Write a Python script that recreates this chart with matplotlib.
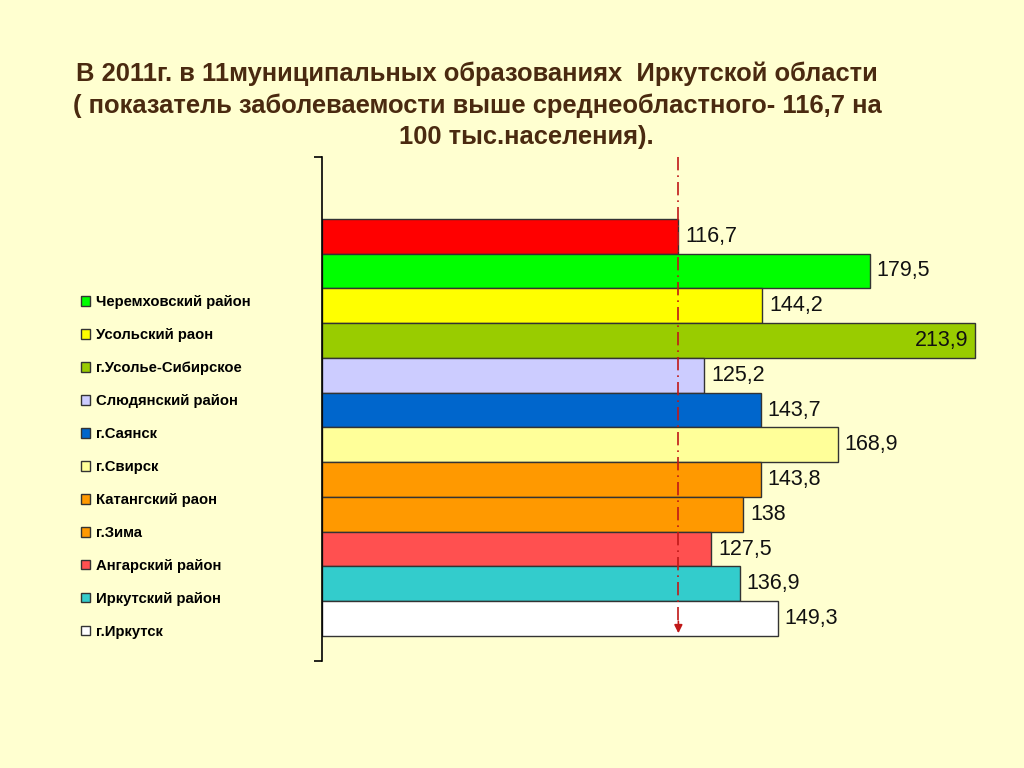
import matplotlib as mpl
import matplotlib.pyplot as plt
import numpy as np

mpl.rcParams['font.family'] = ['Liberation Sans', 'DejaVu Sans']

# data, top bar first (the first one is the oblast average)
names = ['Среднеобластной', 'Черемховский район', 'Усольский раон', 'г.Усолье-Сибирское',
         'Слюдянский район', 'г.Саянск', 'г.Свирск', 'Катангский раон', 'г.Зима',
         'Ангарский район', 'Иркутский район', 'г.Иркутск']
values = [116.7, 179.5, 144.2, 213.9, 125.2, 143.7, 168.9, 143.8, 138, 127.5, 136.9, 149.3]
colors = ['#ff0000', '#00ff00', '#ffff00', '#99cc00', '#ccccff', '#0066cc',
          '#ffff99', '#ff9900', '#ff9900', '#ff5050', '#33cccc', '#ffffff']
average = 116.7

title_lines = ['В 2011г. в 11муниципальных образованиях  Иркутской области',
               '( показатель заболеваемости выше среднеобластного- 116,7 на',
               '100 тыс.населения).']

bg = '#ffffd0'
fig = plt.figure(figsize=(10.24, 7.68), dpi=100, facecolor=bg)
ax = fig.add_axes([0.3145, 0.1393, 0.656, 0.6563])
ax.set_facecolor(bg)

y = np.arange(len(values))
bars = ax.barh(y, values, height=1.0, color=colors, edgecolor='#333333', linewidth=1)

ax.set_xlim(0, 220)
ax.set_ylim(12.22, -2.28)

# value labels
for yi, v in zip(y, values):
    txt = f'{v:g}'.replace('.', ',')
    if v > 200:
        ax.text(v - 2.3, yi, txt, ha='right', va='center', fontsize=15.5, color='#111111')
    else:
        ax.text(v + 2.2, yi, txt, ha='left', va='center', fontsize=15.5, color='#111111')

# average line with arrow
ax.plot([average, average], [-2.28, 11.1], color='#c01818', linestyle=(0, (8, 3, 1, 3)),
        linewidth=1.2)
ax.annotate('', xy=(average, 11.5), xytext=(average, 11.0),
            arrowprops=dict(arrowstyle='-|>', color='#c01818', lw=1.2, mutation_scale=12))

for s in ['top', 'right', 'bottom']:
    ax.spines[s].set_visible(False)
ax.spines['left'].set_linewidth(1.2)
ax.set_xticks([])
ax.set_yticks([12.22, -2.28])
ax.set_yticklabels([])
ax.tick_params(axis='y', direction='out', length=6, width=1.2)

# legend without the average bar
fig.legend(bars[1:], names[1:], loc='upper left', bbox_to_anchor=(0.066, 0.633),
           frameon=False, prop={'weight': 'bold', 'size': 10.75},
           handlelength=0.6, handleheight=0.6, handletextpad=0.4, labelspacing=1.27)

title_color = '#4a2a10'
fig.text(0.466, 0.9035, title_lines[0], ha='center', va='center', fontsize=18.4,
         weight='bold', color=title_color)
fig.text(0.466, 0.8625, title_lines[1], ha='center', va='center', fontsize=18.4,
         weight='bold', color=title_color)
fig.text(0.514, 0.8215, title_lines[2], ha='center', va='center', fontsize=18.4,
         weight='bold', color=title_color)

plt.savefig('out.png', dpi=100, facecolor=bg)
